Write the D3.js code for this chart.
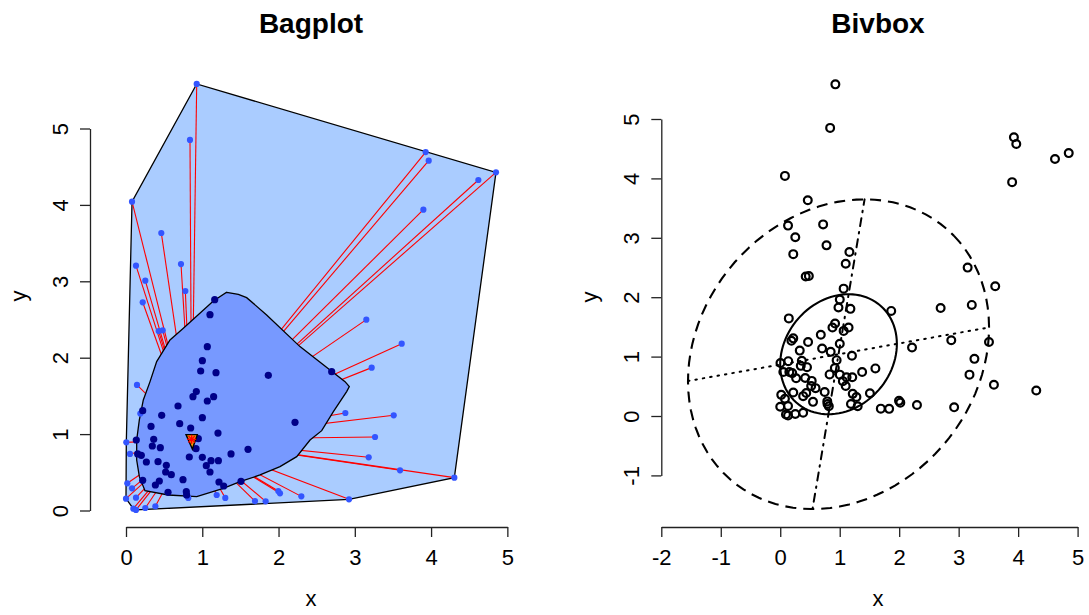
<!DOCTYPE html>
<html>
<head>
<meta charset="utf-8">
<script src="https://cdn.jsdelivr.net/npm/d3@7"></script>
<style>
  body { margin: 0; background: #fff; }
  svg { display: block; font-family: "Liberation Sans", Arial, sans-serif; }
</style>
</head>
<body>
<svg id="chart" width="1089" height="615"></svg>
<script>
// Observations outside the bag (loop points)
const outsideX = [0.927, 0.839, 0.079, 0.463, 0.131, 0.721, 0.253, 0.778, 0.219, 0.428, 0.481,
  3.929, 3.969, 4.851, 4.620, 3.899, 3.151, 3.615, 3.221, 0.144, 2.876, 3.510, 3.265, 3.182,
  3.593, 4.305, 2.924, 2.299, 1.997, 2.019, 1.831, 1.691, 1.302, 1.189, 0.817, 0.385, 0.253,
  0.096, 0.131, 0.000, 0.017, 0.079, 0.131, 0.004, 0.052, 0.188];
const outsideY = [5.583, 4.850, 4.042, 3.632, 3.205, 3.226, 3.008, 2.873, 2.725, 2.349, 2.358,
  4.692, 4.579, 4.426, 4.326, 3.937, 2.498, 2.184, 1.870, 1.643, 1.276, 1.246, 0.962, 0.696,
  0.526, 0.430, 0.146, 0.185, 0.255, 0.225, 0.120, 0.124, 0.164, 0.203, 0.164, 0.055, 0.033,
  0.024, 0.007, 0.155, 0.356, 0.290, 0.168, 0.892, 0.740, 1.268];

// Observations inside the bag
const insideX = [1.163, 1.101, 1.066, 1.001, 0.979, 1.180, 1.866, 2.697, 0.922, 0.878, 1.149,
  1.066, 0.682, 0.219, 0.468, 1.001, 0.704, 2.216, 0.328, 0.848, 1.206, 0.135, 0.363, 0.948,
  0.345, 0.450, 0.918, 1.600, 0.153, 0.201, 1.377, 0.830, 1.001, 1.115, 1.211, 0.267, 0.420,
  0.529, 1.053, 0.520, 0.594, 1.101, 0.219, 0.437, 0.747, 1.219, 0.385, 1.281, 1.508, 0.551,
  0.791, 0.795];
const insideY = [2.760, 2.563, 2.144, 1.961, 1.826, 1.804, 1.769, 1.817, 1.556, 1.490, 1.490,
  1.433, 1.368, 1.307, 1.246, 1.215, 1.137, 1.154, 1.101, 1.080, 1.014, 0.923, 0.931, 0.940,
  0.844, 0.822, 0.809, 0.801, 0.740, 0.722, 0.740, 0.700, 0.696, 0.652, 0.652, 0.635, 0.639,
  0.591, 0.587, 0.504, 0.469, 0.504, 0.395, 0.386, 0.403, 0.373, 0.334, 0.321, 0.382, 0.238,
  0.246, 0.203];

// Bag (depth region) outline
const bagX = [1.320, 1.473, 1.582, 1.844, 2.281, 2.675, 2.872, 2.928, 2.893, 2.719, 2.566, 2.413,
  2.238, 2.019, 1.757, 1.495, 1.276, 0.927, 0.555, 0.249, 0.175, 0.140, 0.140, 0.175, 0.227,
  0.315, 0.402, 0.577, 0.752, 1.145];
const bagY = [2.856, 2.830, 2.786, 2.560, 2.145, 1.840, 1.687, 1.621, 1.556, 1.294, 1.045, 0.923,
  0.705, 0.574, 0.465, 0.377, 0.290, 0.181, 0.203, 0.260, 0.443, 0.661, 0.923, 1.185, 1.447,
  1.687, 1.949, 2.232, 2.385, 2.743];

// Deepest region and Tukey median
const centerX = [0.787, 0.935, 0.870];
const centerY = [0.993, 0.993, 0.805];
const medianXY = [0.861, 0.932];

// Bivariate boxplot statistics: centre, spreads, correlation, hinge / fence radii
const bivCenter = [0.98, 1.04];
const bivSpread = [1.0, 1.03];
const bivCorr = 0.173;
const bivRadius = [0.981, 2.531];

// Tick labels
const bagTicksX = [0, 1, 2, 3, 4, 5];
const bagTicksY = [0, 1, 2, 3, 4, 5];
const bivTicksX = [-2, -1, 0, 1, 2, 3, 4, 5];
const bivTicksY = [-1, 0, 1, 2, 3, 4, 5];

const allX = outsideX.concat(insideX);
const allY = outsideY.concat(insideY);

const svg = d3.select("#chart");
const AXIS_COLOR = "#222";
const FONT = 22;

const L = {
  x: d3.scaleLinear().domain([0, 5]).range([126, 507.35]),
  y: d3.scaleLinear().domain([0, 5]).range([510.5, 128.5]),
  axisX: 90, axisY: 527, cx: 311, cy: 296
};
const R = {
  x: d3.scaleLinear().domain([-2, 5]).range([661.3, 1077.6]),
  y: d3.scaleLinear().domain([-1, 5]).range([475.4, 119]),
  axisX: 661.3, axisY: 527, cx: 878, cy: 297
};

function drawAxes(P, ticksX, ticksY, title) {
  const gx = svg.append("g").attr("transform", `translate(0,${P.axisY})`)
    .call(d3.axisBottom(P.x).tickValues(ticksX).tickSize(10).tickSizeOuter(0)
      .tickPadding(12).tickFormat(d => String(d)));
  const gy = svg.append("g").attr("transform", `translate(${P.axisX},0)`)
    .call(d3.axisLeft(P.y).tickValues(ticksY).tickSize(10).tickSizeOuter(0)
      .tickFormat(d => String(d)));
  [gx, gy].forEach(g => {
    g.select(".domain").attr("stroke", AXIS_COLOR).attr("stroke-width", 1.3);
    g.selectAll(".tick line").attr("stroke", AXIS_COLOR).attr("stroke-width", 1.3);
    g.selectAll("text").attr("fill", "#000").attr("font-size", FONT)
      .attr("font-family", "Liberation Sans, Arial, sans-serif");
  });
  gy.selectAll(".tick text")
    .attr("x", null).attr("dy", null)
    .attr("text-anchor", "middle")
    .attr("transform", "translate(-22.5,0) rotate(-90)");

  svg.append("text").attr("x", P.cx).attr("y", 606).attr("text-anchor", "middle")
    .attr("font-size", FONT).text("x");
  svg.append("text").attr("text-anchor", "middle").attr("font-size", FONT)
    .attr("transform", `translate(${P.axisX - 64},${P.cy}) rotate(-90)`).text("y");
  svg.append("text").attr("x", P.cx).attr("y", 33).attr("text-anchor", "middle")
    .attr("font-size", 28).attr("font-weight", "bold").text(title);
}

// ---------- Bagplot ----------
const pts = allX.map((x, i) => [x, allY[i]]);
const hull = d3.polygonHull(pts);
const lineL = d3.line().x(d => L.x(d[0])).y(d => L.y(d[1])).curve(d3.curveLinearClosed);

svg.append("path").attr("d", lineL(hull))
  .attr("fill", "#aaccff").attr("stroke", "#000").attr("stroke-width", 1.3);

// whiskers from each loop point towards the median (inner part hidden by the bag)
svg.append("g").selectAll("line").data(outsideX).join("line")
  .attr("x1", (d, i) => L.x(d)).attr("y1", (d, i) => L.y(outsideY[i]))
  .attr("x2", L.x(medianXY[0])).attr("y2", L.y(medianXY[1]))
  .attr("stroke", "#ff0000").attr("stroke-width", 1.1);

svg.append("path").attr("d", lineL(bagX.map((x, i) => [x, bagY[i]])))
  .attr("fill", "#7799ff").attr("stroke", "#000").attr("stroke-width", 1.3);

svg.append("g").selectAll("circle").data(outsideX).join("circle")
  .attr("cx", d => L.x(d)).attr("cy", (d, i) => L.y(outsideY[i]))
  .attr("r", 3.1).attr("fill", "#3355ff");

svg.append("g").selectAll("circle").data(insideX).join("circle")
  .attr("cx", d => L.x(d)).attr("cy", (d, i) => L.y(insideY[i]))
  .attr("r", 3.6).attr("fill", "#000088");

svg.append("path").attr("d", lineL(centerX.map((x, i) => [x, centerY[i]])))
  .attr("fill", "#ff9900").attr("stroke", "#000").attr("stroke-width", 1.4);

// asterisk at the Tukey median
const mx = L.x(medianXY[0]), my = L.y(medianXY[1]), a = 4.5, b = 3.2;
const star = svg.append("g").attr("stroke", "#ff0000").attr("stroke-width", 1.4);
[[-a, 0, a, 0], [0, -a, 0, a], [-b, -b, b, b], [-b, b, b, -b]].forEach(s => {
  star.append("line").attr("x1", mx + s[0]).attr("y1", my + s[1])
    .attr("x2", mx + s[2]).attr("y2", my + s[3]);
});

drawAxes(L, bagTicksX, bagTicksY, "Bagplot");

// ---------- Bivariate boxplot ----------
svg.append("g").selectAll("circle").data(allX).join("circle")
  .attr("cx", d => R.x(d)).attr("cy", (d, i) => R.y(allY[i]))
  .attr("r", 3.9).attr("fill", "none").attr("stroke", "#000").attr("stroke-width", 2.2);

const [m1, m2] = bivCenter, [s1, s2] = bivSpread, r = bivCorr;
function ellipse(e) {
  const r1 = e * Math.sqrt((1 + r) / 2), r2 = e * Math.sqrt((1 - r) / 2);
  return d3.range(0, 101).map(i => {
    const t = i * 3.6 * Math.PI / 180;
    return [m1 + (r1 * Math.cos(t) + r2 * Math.sin(t)) * s1,
            m2 + (r1 * Math.cos(t) - r2 * Math.sin(t)) * s2];
  });
}
const lineR = d3.line().x(d => R.x(d[0])).y(d => R.y(d[1]));
const hinge = ellipse(bivRadius[0]);
const fence = ellipse(bivRadius[1]);

svg.append("path").attr("d", lineR(hinge)).attr("fill", "none")
  .attr("stroke", "#000").attr("stroke-width", 2.1);
svg.append("path").attr("d", lineR(fence)).attr("fill", "none")
  .attr("stroke", "#000").attr("stroke-width", 2.1).attr("stroke-dasharray", "11,7");

// regression lines of y on x and x on y, spanning the fence
const fx = d3.extent(fence, d => d[0]), fy = d3.extent(fence, d => d[1]);
const b1 = r * s2 / s1, a1 = m2 - b1 * m1;
const b2 = r * s1 / s2, a2 = m1 - b2 * m2;
svg.append("line")
  .attr("x1", R.x(fx[0])).attr("y1", R.y(a1 + b1 * fx[0]))
  .attr("x2", R.x(fx[1])).attr("y2", R.y(a1 + b1 * fx[1]))
  .attr("stroke", "#000").attr("stroke-width", 2)
  .attr("stroke-dasharray", "1.5,6").attr("stroke-linecap", "round");
svg.append("line")
  .attr("x1", R.x(a2 + b2 * fy[0])).attr("y1", R.y(fy[0]))
  .attr("x2", R.x(a2 + b2 * fy[1])).attr("y2", R.y(fy[1]))
  .attr("stroke", "#000").attr("stroke-width", 2)
  .attr("stroke-dasharray", "1.5,6,8,6").attr("stroke-linecap", "round");

drawAxes(R, bivTicksX, bivTicksY, "Bivbox");
</script>
</body>
</html>
